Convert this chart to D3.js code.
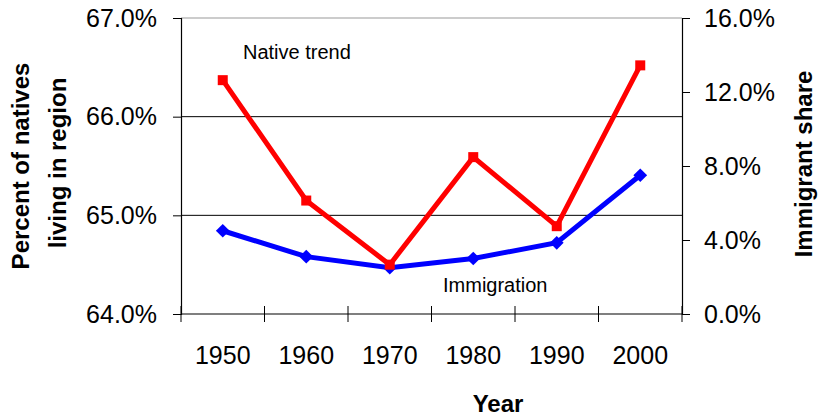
<!DOCTYPE html>
<html>
<head>
<meta charset="utf-8">
<script src="https://cdn.jsdelivr.net/npm/d3@7"></script>
<style>
  body { margin: 0; background: #fff; }
  svg { font-family: "Liberation Sans", Arial, sans-serif; }
</style>
</head>
<body>
<svg id="chart" width="828" height="417"></svg>
<script>
// Data
const years = ["1950", "1960", "1970", "1980", "1990", "2000"];
const nativeShare = [66.37, 65.15, 64.50, 65.59, 64.89, 66.52];   // left axis, %
const immigrantShare = [4.5, 3.1, 2.5, 3.0, 3.85, 7.5];           // right axis, %
const leftTicks = [64, 65, 66, 67];
const rightTicks = [0, 4, 8, 12, 16];

const margin = { top: 18, right: 146, bottom: 103, left: 181 };
const W = 828, H = 417;
const width = W - margin.left - margin.right;
const height = H - margin.top - margin.bottom;

const svg = d3.select("#chart");
const g = svg.append("g").attr("transform", `translate(${margin.left},${margin.top})`);

const x = d3.scaleBand().domain(years).range([0, width]);
const yL = d3.scaleLinear().domain([64, 67]).range([height, 0]);
const yR = d3.scaleLinear().domain([0, 16]).range([height, 0]);

// gridlines
g.selectAll(".grid").data(leftTicks.filter(d => d > 64 && d < 67)).enter().append("line")
    .attr("x1", 0).attr("x2", width)
    .attr("y1", d => yL(d)).attr("y2", d => yL(d))
    .attr("stroke", "#000").attr("stroke-width", 1);
g.append("line")
    .attr("x1", 0).attr("x2", width).attr("y1", 0).attr("y2", 0)
    .attr("stroke", "#999").attr("stroke-width", 1);

// left axis
const axL = g.append("g")
    .call(d3.axisLeft(yL).tickValues(leftTicks).tickFormat(d => d.toFixed(1) + "%").tickSize(8).tickPadding(16));
// right axis
const axR = g.append("g").attr("transform", `translate(${width},0)`)
    .call(d3.axisRight(yR).tickValues(rightTicks).tickFormat(d => d.toFixed(1) + "%").tickSize(8).tickPadding(14));
// bottom axis, ticks at band boundaries
const axB = g.append("g").attr("transform", `translate(0,${height})`)
    .call(d3.axisBottom(x).tickSize(0).tickPadding(32));
g.append("g").attr("transform", `translate(0,${height})`)
    .selectAll("line").data(years.concat(["end"])).enter().append("line")
    .attr("x1", (d, i) => i * x.step()).attr("x2", (d, i) => i * x.step())
    .attr("y1", -8).attr("y2", 8)
    .attr("stroke", "#000");

[axL, axR, axB].forEach(a => {
    a.selectAll(".domain").attr("stroke", "#000").attr("stroke-width", 1.2);
    a.selectAll(".tick line").attr("stroke", "#000");
    a.selectAll(".tick text").style("font-size", "25px").style("fill", "#000")
        .style("font-family", '"Liberation Sans", Arial, sans-serif');
});
axB.select(".domain").attr("d", `M0,0H${width}`);

// lines
const cx = i => x(years[i]) + x.bandwidth() / 2;
const lineN = d3.line().x((d, i) => cx(i)).y(d => yL(d));
const lineI = d3.line().x((d, i) => cx(i)).y(d => yR(d));

g.append("path").datum(immigrantShare).attr("d", lineI)
    .attr("fill", "none").attr("stroke", "#0000ff").attr("stroke-width", 5);
g.selectAll(".dia").data(immigrantShare).enter().append("path")
    .attr("transform", (d, i) => `translate(${cx(i)},${yR(d)})`)
    .attr("d", d3.symbol().type(d3.symbolDiamond2).size(120))
    .attr("fill", "#0000ff");

g.append("path").datum(nativeShare).attr("d", lineN)
    .attr("fill", "none").attr("stroke", "#ff0000").attr("stroke-width", 5);
g.selectAll(".sq").data(nativeShare).enter().append("rect")
    .attr("x", (d, i) => cx(i) - 5).attr("y", d => yL(d) - 5)
    .attr("width", 10).attr("height", 10)
    .attr("fill", "#ff0000");

// series labels
g.append("text").attr("x", 243 - margin.left).attr("y", 59 - margin.top)
    .style("font-size", "20px").text("Native trend");
g.append("text").attr("x", 443 - margin.left).attr("y", 292 - margin.top)
    .style("font-size", "20px").text("Immigration");

// axis titles
svg.append("text").attr("x", 498).attr("y", 412)
    .attr("text-anchor", "middle")
    .style("font-size", "24px").style("font-weight", "bold").text("Year");
svg.append("text").attr("transform", "translate(29,166) rotate(-90)")
    .attr("text-anchor", "middle")
    .style("font-size", "24px").style("font-weight", "bold").text("Percent of natives");
svg.append("text").attr("transform", "translate(66,163) rotate(-90)")
    .attr("text-anchor", "middle")
    .style("font-size", "24px").style("font-weight", "bold").text("living in region");
svg.append("text").attr("transform", "translate(812,164) rotate(-90)")
    .attr("text-anchor", "middle")
    .style("font-size", "24px").style("font-weight", "bold").text("Immigrant share");
</script>
</body>
</html>
